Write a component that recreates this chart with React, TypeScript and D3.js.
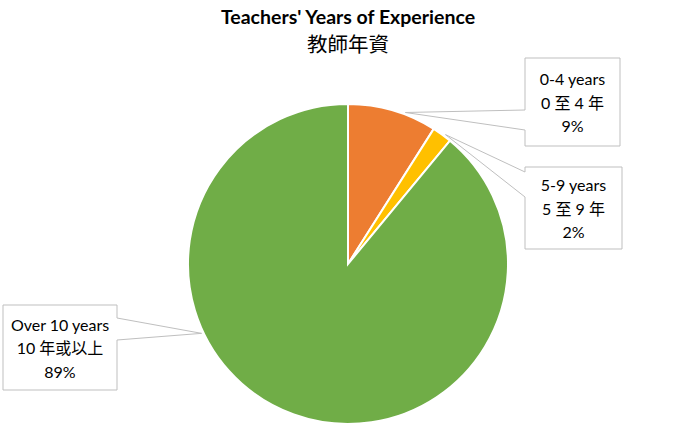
import React from 'react';
import * as d3 from 'd3';

// Data
const categories = ['0-4 years', '5-9 years', 'Over 10 years'];
const categoriesZh = ['0 至 4 年', '5 至 9 年', '10 年或以上'];
const values = [9, 2, 89];
const colors = ['#ED7D31', '#FFC000', '#70AD47'];

// Callout layout (box position, leader attachment along the facing edge)
const callouts = [
  { x: 525, y: 58, w: 95, h: 88, side: 'left', b1: 52, b2: 72 },
  { x: 525, y: 167, w: 97, h: 82, side: 'left', b1: 5, b2: 30 },
  { x: 3, y: 305, w: 114, h: 85, side: 'right', b1: 13, b2: 35 },
];

const W = 697;
const H = 444;
const cx = 348;
const cy = 264;
const radius = 160;
const font = 'Lato, "Noto Sans CJK TC", sans-serif';

export default function App() {
  const pie = d3
    .pie<number>()
    .sort(null)
    .value((d) => d);
  const arcs = pie(values);
  const arc = d3.arc<d3.PieArcDatum<number>>().innerRadius(0).outerRadius(radius);
  const total = d3.sum(values);

  return (
    <svg
      width={W}
      height={H}
      style={{ position: 'absolute', left: 0, top: 0, background: '#fff' }}
    >
      <text
        x={cx}
        y={24}
        textAnchor="middle"
        fontFamily={font}
        fontWeight="bold"
        fontSize={19.5}
        fill="#000"
      >
        Teachers' Years of Experience
      </text>
      <text
        x={cx}
        y={52}
        textAnchor="middle"
        fontFamily='"Noto Sans CJK TC", sans-serif'
        fontSize={20.5}
        fill="#000"
      >
        教師年資
      </text>

      <g transform={`translate(${cx},${cy})`}>
        {arcs.map((a, i) => (
          <path key={i} d={arc(a) || ''} fill={colors[i]} stroke="#fff" strokeWidth={2} />
        ))}
      </g>

      {arcs.map((a, i) => {
        const c = callouts[i];
        // anchor: point on the rim of the slice nearest the box
        const span = a.endAngle - a.startAngle;
        const bx = c.x + c.w / 2 - cx;
        const by = c.y + c.h / 2 - cy;
        let ang = Math.atan2(bx, -by);
        if (ang < 0) ang += Math.PI * 2;
        const pad = span * 0.36;
        ang = Math.max(a.startAngle + pad, Math.min(a.endAngle - pad, ang));
        const ax = cx + (radius + 2) * Math.sin(ang);
        const ay = cy - (radius + 2) * Math.cos(ang);
        const x0 = c.x;
        const x1 = c.x + c.w;
        const y0 = c.y;
        const y1 = c.y + c.h;
        const p1 = c.y + c.b1;
        const p2 = c.y + c.b2;
        const d =
          c.side === 'left'
            ? `M${x0},${y0}L${x1},${y0}L${x1},${y1}L${x0},${y1}L${x0},${p2}L${ax},${ay}L${x0},${p1}Z`
            : `M${x0},${y0}L${x1},${y0}L${x1},${p1}L${ax},${ay}L${x1},${p2}L${x1},${y1}L${x0},${y1}Z`;
        const tx = c.x + c.w / 2;
        const pct = Math.round((values[i] / total) * 100);
        const lines = [categories[i], categoriesZh[i], `${pct}%`];
        return (
          <g key={i}>
            <path d={d} fill="#fff" stroke="#BFBFBF" strokeWidth={1} />
            {lines.map((t, j) => (
              <text
                key={j}
                x={tx}
                y={c.y + c.h / 2 + (j - 1) * 23.5}
                textAnchor="middle"
                dominantBaseline="central"
                fontFamily={font}
                fontSize={16}
                fill="#000"
              >
                {t}
              </text>
            ))}
          </g>
        );
      })}
    </svg>
  );
}
